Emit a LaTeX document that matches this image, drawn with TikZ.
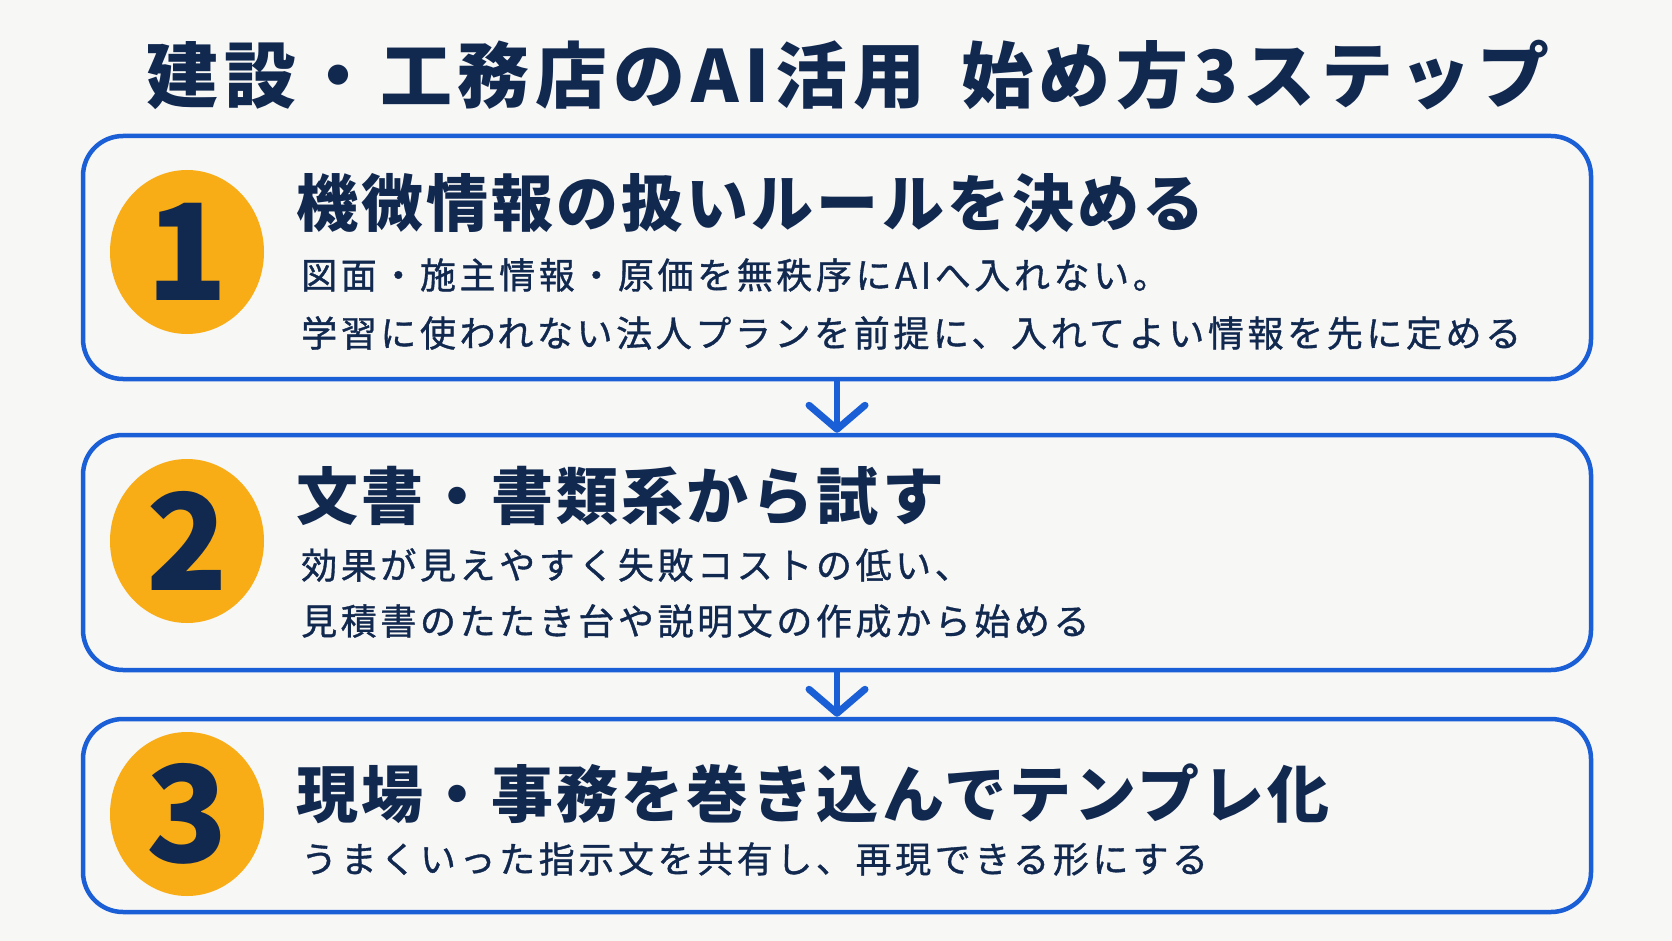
\documentclass[tikz,border=0pt]{standalone}
\usepackage{fontspec}
\setmainfont{Noto Sans CJK JP}
\newfontfamily\titlefont[LetterSpace=8]{Noto Sans CJK JP}
\newfontfamily\headfont[LetterSpace=5]{Noto Sans CJK JP}
\newfontfamily\bodyfont[LetterSpace=10,FakeBold=1]{Noto Sans CJK JP}
\usetikzlibrary{arrows.meta,shapes.geometric}
\definecolor{bgcol}{HTML}{F7F7F6}
\definecolor{navy}{HTML}{11284F}
\definecolor{stepblue}{HTML}{1B5FD6}
\definecolor{amber}{HTML}{F8AD16}
\tikzset{
  stepbox/.style={draw=stepblue,line width=4.5pt,rounded corners=40pt,minimum width=1508pt,inner sep=0pt},
  numdisc/.style={ellipse,fill=amber,minimum width=154pt,minimum height=164pt,inner sep=0pt,
    text=navy,font=\bfseries\fontsize{134}{140}\selectfont},
  headtext/.style={anchor=west,inner sep=0pt,text=navy,font=\headfont\bfseries\fontsize{62}{70}\selectfont},
  bodytext/.style={anchor=west,inner sep=0pt,text=navy,font=\bodyfont\fontsize{36}{42}\selectfont},
  flow/.style={draw=stepblue,line width=5.5pt,-{Straight Barb[length=24pt,width=56pt,line width=7pt,round]}}
}
\begin{document}
\begin{tikzpicture}[x=1pt,y=-1pt]
  \fill[bgcol] (0,0) rectangle (1672,941);
  \useasboundingbox (0,0) rectangle (1672,941);

  \node[inner sep=0pt,text=navy,font=\titlefont\bfseries\fontsize{72}{78}\selectfont] (title) at (848,75)
    {建設・工務店のAI活用\hspace{0.5em}始め方3ステップ};

  % step boxes
  \node[stepbox,minimum height=243pt] (step1) at (837,257.5) {};
  \node[stepbox,minimum height=235pt] (step2) at (837,552.5) {};
  \node[stepbox,minimum height=193pt] (step3) at (837,815.5) {};

  \node[numdisc] (num1) at (187,252) {1};
  \node[numdisc] (num2) at (187,541) {2};
  \node[numdisc] (num3) at (187,814) {3};

  % step 1
  \node[headtext] (head1) at (296,203) {機微情報の扱いルールを決める};
  \node[bodytext] (body1a) at (301,275) {図面・施主情報・原価を無秩序にAIへ入れない。};
  \node[bodytext] (body1b) at (301,333) {学習に使われない法人プランを前提に、入れてよい情報を先に定める};

  % step 2
  \node[headtext] (head2) at (296,496) {文書・書類系から試す};
  \node[bodytext] (body2a) at (301,565) {効果が見えやすく失敗コストの低い、};
  \node[bodytext] (body2b) at (301,621) {見積書のたたき台や説明文の作成から始める};

  % step 3
  \node[headtext] (head3) at (296,794) {現場・事務を巻き込んでテンプレ化};
  \node[bodytext] (body3a) at (301,859) {うまくいった指示文を共有し、再現できる形にする};

  \draw[flow] (step1.south) -- (step2.north);
  \draw[flow] (step2.south) -- (step3.north);
\end{tikzpicture}
\end{document}
